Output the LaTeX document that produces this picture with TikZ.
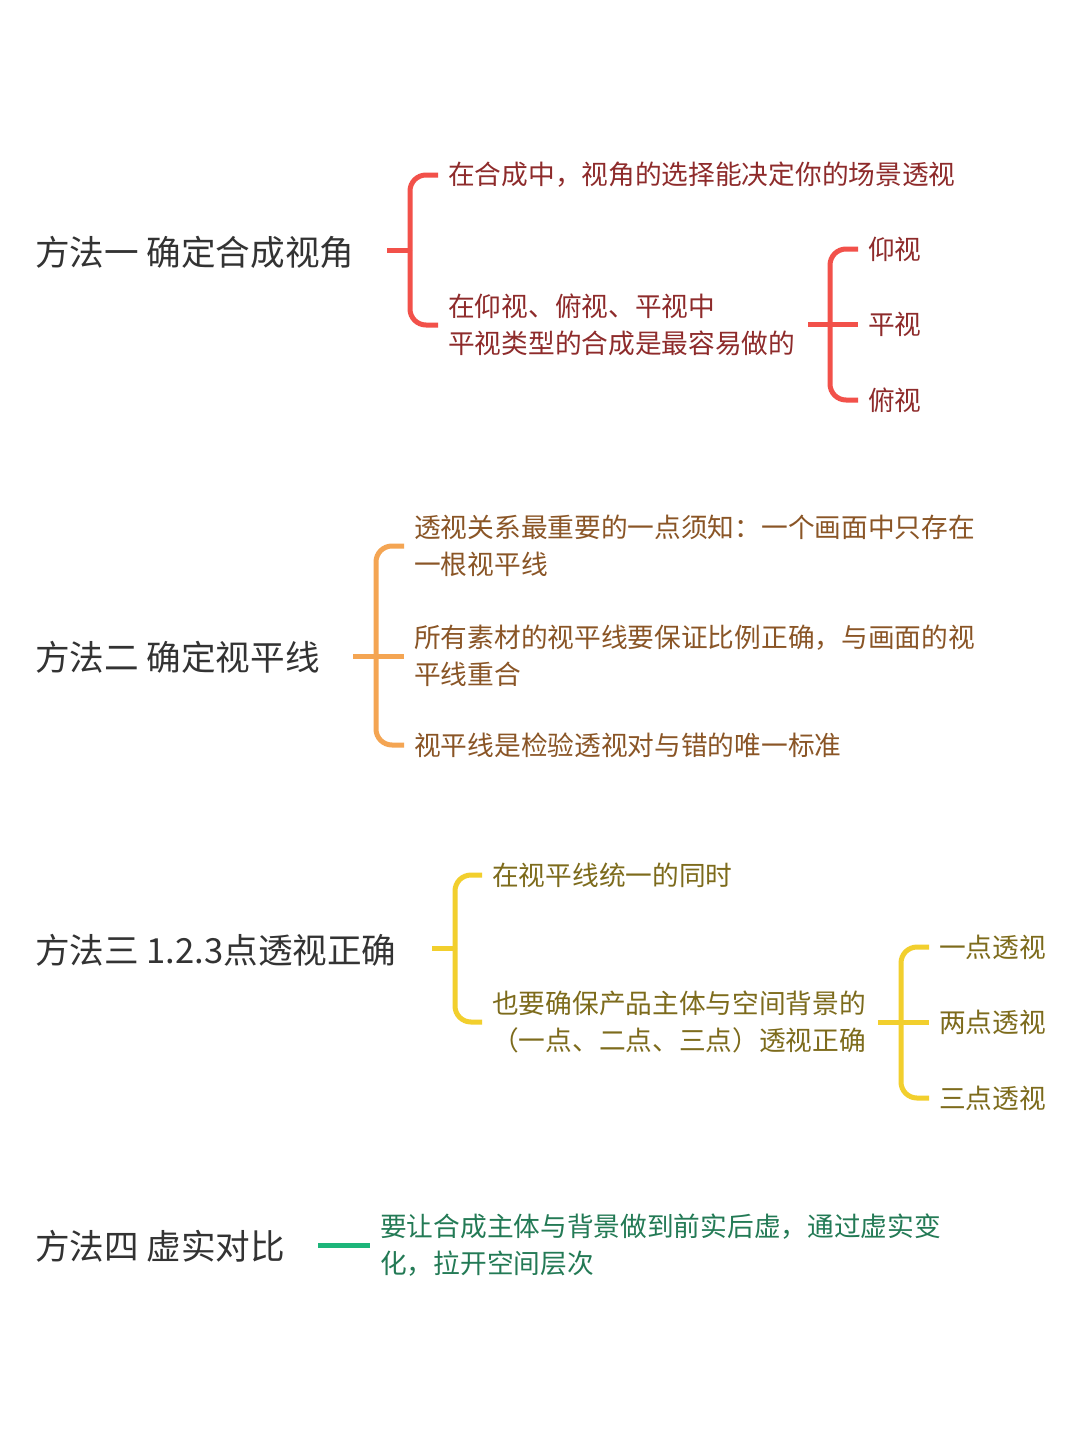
\documentclass[tikz,border=0pt]{standalone}
\usepackage{fontspec}
\setmainfont{Noto Sans CJK SC}
\usetikzlibrary{calc}
\definecolor{redL}{HTML}{F2514A}\definecolor{redT}{HTML}{8E2B2B}
\definecolor{oraL}{HTML}{F4A553}\definecolor{oraT}{HTML}{8A5526}
\definecolor{yelL}{HTML}{F2CF2D}\definecolor{yelT}{HTML}{7D6B1C}
\definecolor{grnL}{HTML}{1DB57A}\definecolor{grnT}{HTML}{237A55}
\definecolor{titT}{HTML}{333333}
\begin{document}
\begin{tikzpicture}[x=1pt,y=-1pt,
  title/.style={anchor=west,inner sep=0pt,text=titT,font=\fontsize{34.6}{40}\selectfont},
  sub/.style={anchor=west,inner sep=0pt,align=left,font=\fontsize{26.7}{37}\selectfont},
  br/.style={line width=5pt,line cap=butt},
  arm/.style={br,rounded corners=16pt}]
\useasboundingbox (0,0) rectangle (1080,1440);
\fill[white] (0,0) rectangle (1080,1440);

% ---------- method 1
\node[title] (t1) at (35,252) {方法一 确定合成视角};
\coordinate (s1) at (387,250);
\coordinate (j1) at (410,250);
\node[sub,text=redT] (a1) at (448,175) {在合成中，视角的选择能决定你的场景透视};
\node[sub,text=redT] (a2) at (448,325) {在仰视、俯视、平视中\\平视类型的合成是最容易做的};
\draw[br,redL] (s1) -- (j1);
\draw[arm,redL] (j1) |- ($(a1.west)+(-10,0)$);
\draw[arm,redL] (j1) |- ($(a2.west)+(-10,0)$);
\coordinate (s2) at (808,324);
\coordinate (j2) at (830,324);
\node[sub,text=redT] (b1) at (868,249) {仰视};
\node[sub,text=redT] (b2) at (868,324) {平视};
\node[sub,text=redT] (b3) at (868,400) {俯视};
\draw[br,redL] (s2) -- (j2) -- ($(b2.west)+(-10,0)$);
\draw[arm,redL] (j2) |- ($(b1.west)+(-10,0)$);
\draw[arm,redL] (j2) |- ($(b3.west)+(-10,0)$);

% ---------- method 2
\node[title] (t2) at (35,657) {方法二 确定视平线};
\coordinate (s3) at (353,656);
\coordinate (j3) at (376,656);
\node[sub,text=oraT] (c1) at (414,546) {透视关系最重要的一点须知：一个画面中只存在\\一根视平线};
\node[sub,text=oraT] (c2) at (414,656) {所有素材的视平线要保证比例正确，与画面的视\\平线重合};
\node[sub,text=oraT] (c3) at (414,745) {视平线是检验透视对与错的唯一标准};
\draw[br,oraL] (s3) -- (j3) -- ($(c2.west)+(-10,0)$);
\draw[arm,oraL] (j3) |- ($(c1.west)+(-10,0)$);
\draw[arm,oraL] (j3) |- ($(c3.west)+(-10,0)$);

% ---------- method 3
\node[title] (t3) at (35,950) {方法三 1.2.3点透视正确};
\coordinate (s4) at (432,948);
\coordinate (j4) at (455,948);
\node[sub,text=yelT] (d1) at (492,875) {在视平线统一的同时};
\node[sub,text=yelT] (d2) at (492,1022) {也要确保产品主体与空间背景的\\（一点、二点、三点）透视正确};
\draw[br,yelL] (s4) -- (j4);
\draw[arm,yelL] (j4) |- ($(d1.west)+(-10,0)$);
\draw[arm,yelL] (j4) |- ($(d2.west)+(-10,0)$);
\coordinate (s5) at (878,1022);
\coordinate (j5) at (901,1022);
\node[sub,text=yelT] (e1) at (939,947) {一点透视};
\node[sub,text=yelT] (e2) at (939,1022) {两点透视};
\node[sub,text=yelT] (e3) at (939,1098) {三点透视};
\draw[br,yelL] (s5) -- (j5) -- ($(e2.west)+(-10,0)$);
\draw[arm,yelL] (j5) |- ($(e1.west)+(-10,0)$);
\draw[arm,yelL] (j5) |- ($(e3.west)+(-10,0)$);

% ---------- method 4
\node[title] (t4) at (35,1246) {方法四 虚实对比};
\coordinate (s6) at (318,1245);
\node[sub,text=grnT] (f1) at (380,1245) {要让合成主体与背景做到前实后虚，通过虚实变\\化，拉开空间层次};
\draw[br,grnL] (s6) -- ($(f1.west)+(-10,0)$);
\end{tikzpicture}
\end{document}
